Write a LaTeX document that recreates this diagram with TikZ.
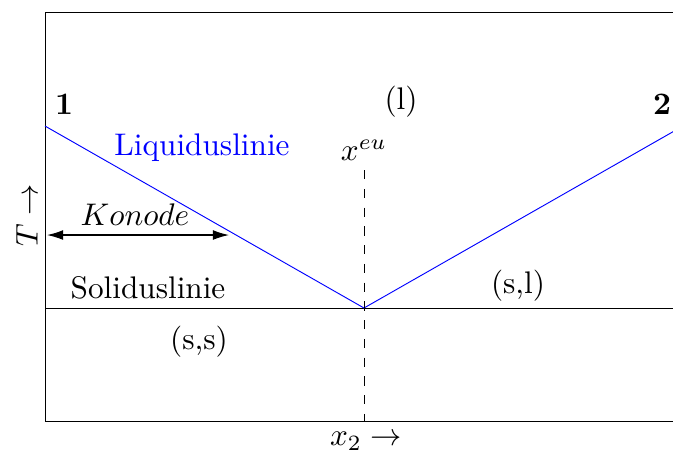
\documentclass[tikz,border=0pt]{standalone}
\usepackage{tikz}
\usetikzlibrary{arrows.meta,positioning,calc}
\tikzset{
  achse/.style={draw=black, line width=0.3pt},
  liquidus/.style={draw=blue, line width=0.3pt},
  eutlinie/.style={draw=black, dashed, line width=0.3pt},
  konodearrow/.style={{Latex[length=1.8mm,width=1.1mm]}-{Latex[length=1.8mm,width=1.1mm]}, draw=black, line width=0.4pt},
  phasenlabel/.style={font=\normalsize, inner sep=1pt},
}
\begin{document}
\begin{tikzpicture}[x=0.32pt,y=-0.32pt]
  \useasboundingbox (0,0) rectangle (673,450);
  \clip (0,0) rectangle (673,450);

  % Rahmen und Soliduslinie
  \coordinate (lo) at (45,12);
  \coordinate (ro) at (683,12);
  \coordinate (lu) at (45,421);
  \coordinate (ru) at (683,421);
  \coordinate (sl) at (45,308);
  \coordinate (sr) at (683,308);
  \coordinate (eu) at (364,308);
  \draw[achse] (lo) rectangle (ru);
  \draw[achse] (sl) -- (sr);

  % Liquiduslinie
  \coordinate (l1) at (45,126);
  \coordinate (l2) at (683,126);
  \draw[liquidus] (l1) -- (eu) -- (l2);

  % eutektische Zusammensetzung
  \node[phasenlabel] (xeu) at (364,150) {$x^{eu}$};
  \coordinate (xo) at (364,170);
  \coordinate (xu) at (364,421);
  \draw[eutlinie] (xo) -- (xu);

  % Konode
  \coordinate (k1) at (47,235);
  \coordinate (k2) at (229,235);
  \draw[konodearrow] (k1) -- (k2);
  \node[phasenlabel] (konode) at (135,215) {$Konode$};

  % Beschriftungen
  \node[phasenlabel, font=\bfseries] (eins) at (64,104) {1};
  \node[phasenlabel, font=\bfseries] (zwei) at (662,104) {2};
  \node[phasenlabel] (fl) at (401,102) {(l)};
  \node[phasenlabel, text=blue] (liq) at (202,148) {Liquiduslinie};
  \node[phasenlabel] (sol) at (148,288) {Soliduslinie};
  \node[phasenlabel] (sfl) at (518,286) {(s,l)};
  \node[phasenlabel] (ss) at (199,342) {(s,s)};

  % Achsen
  \node[phasenlabel, rotate=90] (tachse) at (27,215) {$T\rightarrow$};
  \node[phasenlabel] (xachse) at (366,441) {$x_2\rightarrow$};
\end{tikzpicture}
\end{document}
